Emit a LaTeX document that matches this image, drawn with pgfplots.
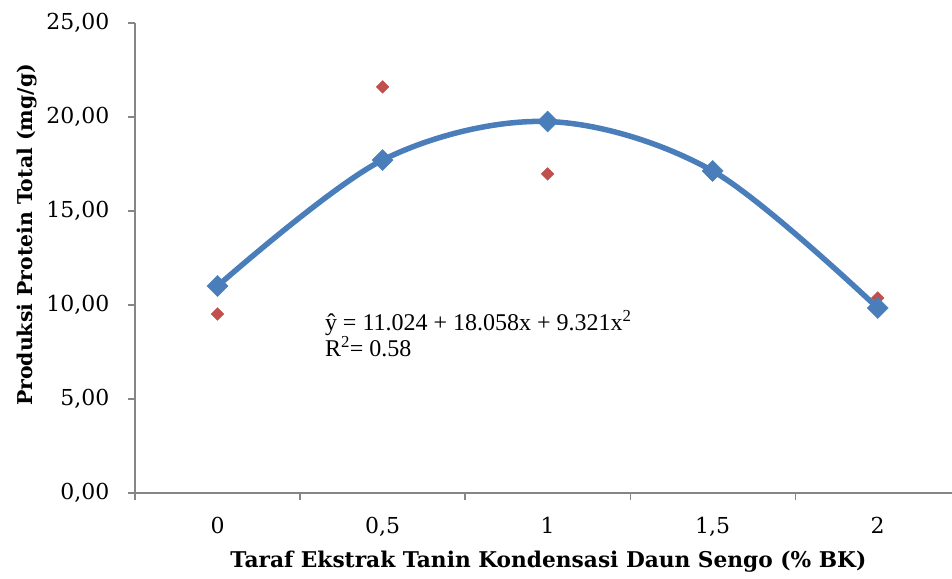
\documentclass[border=0pt]{standalone}
\usepackage{pgfplots}
\pgfplotsset{compat=1.18}
\usepackage{fontspec}
\setmainfont{Liberation Serif}
\newfontfamily\lblfont{DejaVu Serif}
\definecolor{axgray}{RGB}{134,134,134}
\definecolor{sblue}{RGB}{74,126,187}
\definecolor{sred}{RGB}{192,80,77}
\begin{document}
\begin{tikzpicture}
\begin{axis}[
  scale only axis,
  width=817pt, height=470pt,
  xmin=-0.5, xmax=4.45,
  ymin=0, ymax=25,
  axis x line*=bottom, axis y line*=left,
  axis line style={axgray, line width=1.3pt, -},
  xtick={0,1,2,3,4},
  xticklabels={0,{0,5},1,{1,5},2},
  minor xtick={-0.5,0.5,1.5,2.5,3.5},
  x tick style={draw=none},
  minor x tick style={draw=axgray, line width=1.3pt},
  minor tick length=7pt,
  ytick={0,5,...,25},
  y tick style={axgray, line width=1.3pt},
  major tick length=7pt,
  tick align=outside,
  /pgf/number format/assume math mode=true,
  y tick label style={/pgf/number format/fixed, /pgf/number format/fixed zerofill, /pgf/number format/precision=2, /pgf/number format/use comma, font=\lblfont\fontsize{22}{26}\selectfont, xshift=-15pt},
  x tick label style={font=\lblfont\fontsize{22}{26}\selectfont, yshift=-14pt},
  xlabel={\textbf{Taraf Ekstrak Tanin Kondensasi Daun Sengo (\% BK)}},
  ylabel={\textbf{Produksi Protein Total (mg/g)}},
  xlabel style={font=\lblfont\fontsize{21.7}{25}\selectfont, at={(axis description cs:0.506,-0.1468)}, anchor=center},
  ylabel style={font=\lblfont\fontsize{20.4}{24}\selectfont, at={(axis description cs:-0.1322,0.549)}, anchor=center},
  clip=false,
]
\addplot[sred, only marks, mark=square*, mark size=4.5pt, mark options={fill=sred, draw=sred, rotate=45}]
  coordinates {(0,9.52) (1,21.6) (2,16.97) (3,16.92) (4,10.37)};
\addplot[sblue, line width=5.5pt, smooth, tension=0.55, mark=square*, mark size=7.4pt, mark options={fill=sblue, draw=sblue, line width=0.5pt, rotate=45}]
  coordinates {(0,11.01) (1,17.71) (2,19.76) (3,17.13) (4,9.84)};
\node[anchor=north west, align=left, font=\fontsize{24}{26}\selectfont, inner sep=0pt] at (axis cs:0.65,9.75)
  {ŷ = 11.024 + 18.058x + 9.321x\textsuperscript{2}\\R\textsuperscript{2}= 0.58};
\end{axis}
\pgfresetboundingbox
\path[use as bounding box] (-135pt,-85pt) rectangle (817pt,493pt);
\end{tikzpicture}
\end{document}
